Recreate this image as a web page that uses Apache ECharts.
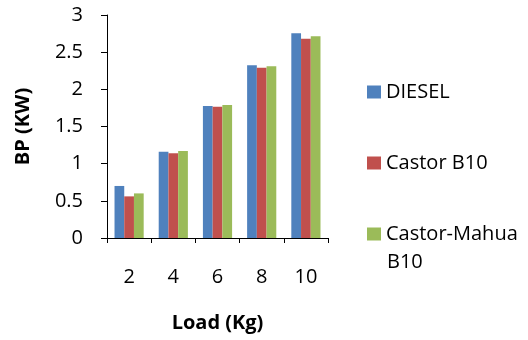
<!DOCTYPE html>
<html>
<head>
<meta charset="utf-8">
<script src="https://cdn.jsdelivr.net/npm/echarts@6/dist/echarts.min.js"></script>
<style>html,body{margin:0;padding:0;background:#fff}#chart{width:528px;height:340px}</style>
</head>
<body>
<div id="chart"></div>
<script>
// Brake power against engine load for three fuels
const loads = ['2', '4', '6', '8', '10'];
const diesel = [0.70, 1.16, 1.775, 2.325, 2.755];
const castorB10 = [0.56, 1.14, 1.765, 2.29, 2.68];
const castorMahuaB10 = [0.60, 1.17, 1.79, 2.31, 2.715];
const seriesNames = ['DIESEL', 'Castor B10', 'Castor-Mahua B10'];
const colors = ['#4f81bd', '#c0504d', '#9bbb59'];

const FONT = 'Open Sans';
const chart = echarts.init(document.getElementById('chart'));
chart.setOption({
  animation: false,
  color: colors,
  textStyle: { fontFamily: FONT },
  grid: { left: 107, right: 200, top: 15, bottom: 102, containLabel: false, outerBoundsMode: 'none' },
  legend: {
    orient: 'vertical',
    left: 367,
    top: 82,
    padding: 0,
    itemWidth: 14,
    itemHeight: 13,
    itemGap: 51,
    icon: 'rect',
    data: seriesNames,
    formatter: n => n === 'Castor-Mahua B10' ? 'Castor-Mahua' : n,
    textStyle: { fontFamily: FONT, fontSize: 20, color: '#000' }
  },
  graphic: [{
    type: 'text',
    x: 387,
    y: 262,
    style: { text: 'B10', fontFamily: FONT, fontSize: 20, fill: '#000', verticalAlign: 'middle' }
  }],
  xAxis: {
    type: 'category',
    data: loads,
    name: 'Load (Kg)',
    nameLocation: 'middle',
    nameGap: 75,
    nameTextStyle: { fontFamily: FONT, fontSize: 20, fontWeight: 'bold', color: '#000' },
    axisLine: { lineStyle: { color: '#000', width: 1 } },
    axisTick: { show: true, length: 5, lineStyle: { color: '#000' } },
    axisLabel: { margin: 29, fontSize: 20, color: '#000', fontFamily: FONT }
  },
  yAxis: {
    type: 'value',
    min: 0,
    max: 3,
    interval: 0.5,
    name: 'BP (KW)',
    nameLocation: 'middle',
    nameGap: 74,
    nameRotate: 90,
    nameTextStyle: { fontFamily: FONT, fontSize: 20, fontWeight: 'bold', color: '#000' },
    axisLine: { show: true, lineStyle: { color: '#000', width: 1 } },
    axisTick: { show: true, length: 6, lineStyle: { color: '#000' } },
    splitLine: { show: false },
    axisLabel: { margin: 24, fontSize: 20, color: '#000', fontFamily: FONT }
  },
  series: [
    { name: seriesNames[0], type: 'bar', data: diesel, barGap: '0%', barCategoryGap: '34%' },
    { name: seriesNames[1], type: 'bar', data: castorB10, barGap: '0%', barCategoryGap: '34%' },
    { name: seriesNames[2], type: 'bar', data: castorMahuaB10, barGap: '0%', barCategoryGap: '34%' }
  ]
});
</script>
</body>
</html>
